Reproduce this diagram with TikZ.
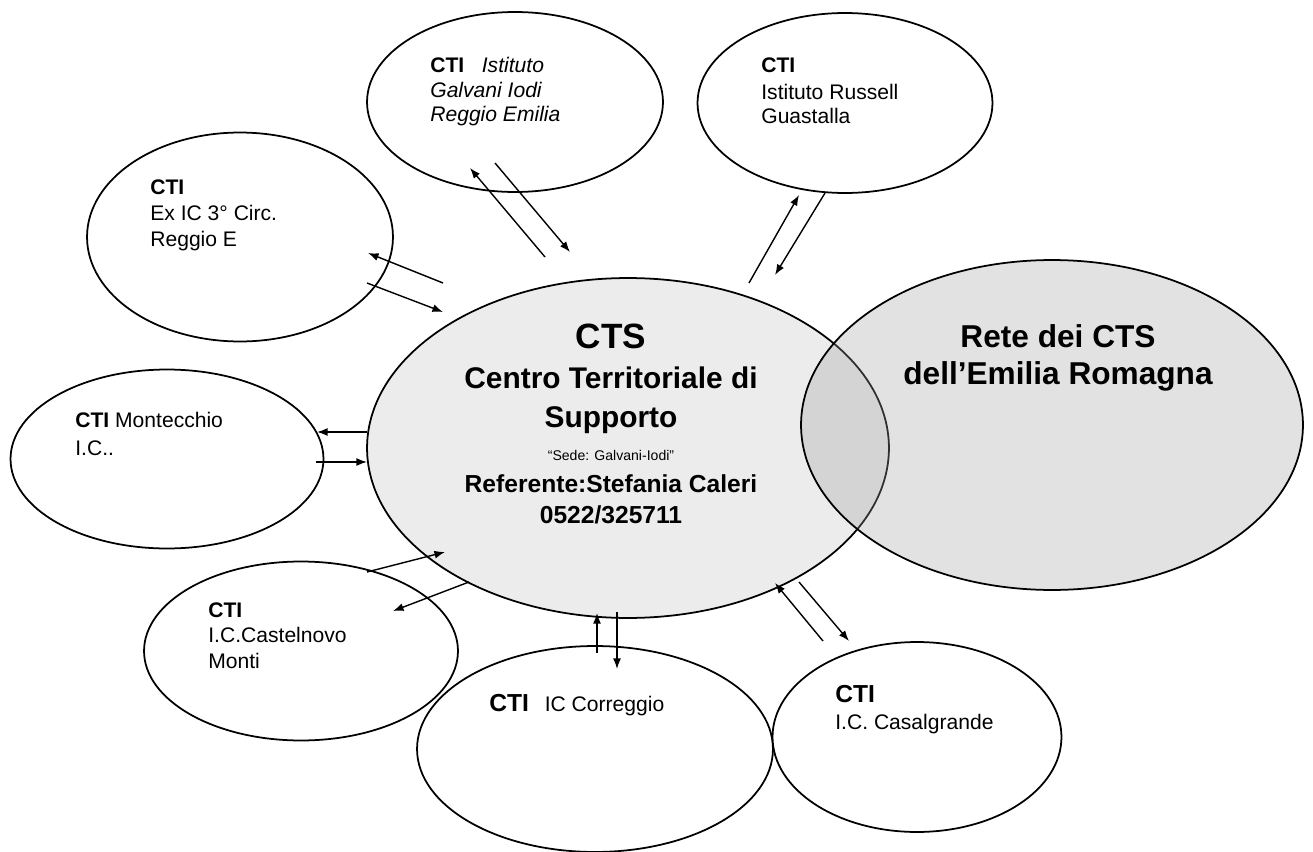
\documentclass[tikz,border=0pt]{standalone}
\usepackage{fontspec}
\setmainfont{Liberation Sans}
\usetikzlibrary{shapes,arrows.meta}
\pgfdeclarelayer{ellipselayer}
\pgfdeclarelayer{edgelayer}
\pgfdeclarelayer{nodelayer}
\pgfsetlayers{ellipselayer,edgelayer,nodelayer,main}
\definecolor{ctsfill}{gray}{0.925}
\definecolor{retefill}{gray}{0.62}
\tikzset{font=\fontsize{12}{14}\selectfont}
\tikzstyle{none}=[inner sep=0pt]
\tikzstyle{cti}=[ellipse,draw,fill=white,line width=1pt,inner sep=0pt]
\tikzstyle{txt}=[anchor=base west,inner sep=0pt]
\tikzstyle{txtc}=[anchor=base,inner sep=0pt,font=\fontsize{17}{20}\selectfont\bfseries]
\tikzstyle{arr}=[line width=0.8pt,-{Latex[length=6pt,width=4.5pt]}]

\begin{document}
\begin{tikzpicture}[x=0.02cm,y=-0.02cm]
	\useasboundingbox (0, 0) rectangle (1313, 852);
	\begin{pgfonlayer}{ellipselayer}
		\node [style=cti, minimum width=5.92cm, minimum height=3.6cm] (galvani) at (515, 102) {};
		\node [style=cti, minimum width=5.9cm, minimum height=3.6cm] (russell) at (845, 103) {};
		\node [style=cti, minimum width=6.12cm, minimum height=4.18cm] (exic) at (240, 237) {};
		\node [style=cti, minimum width=6.26cm, minimum height=3.58cm] (montecchio) at (167, 459) {};
		\node [style=cti, minimum width=6.28cm, minimum height=3.58cm] (castelnovo) at (301, 651) {};
		\node [style=cti, minimum width=7.12cm, minimum height=4.12cm] (correggio) at (595, 749) {};
		\node [style=cti, minimum width=5.78cm, minimum height=3.8cm] (casalgrande) at (917, 737) {};
		\node [style=cti, fill=ctsfill, minimum width=10.44cm, minimum height=6.8cm] (cts) at (628, 448) {};
		\node [style=cti, fill=retefill, fill opacity=0.3, minimum width=10.04cm, minimum height=6.6cm] (rete) at (1052, 425) {};
	\end{pgfonlayer}
	\begin{pgfonlayer}{nodelayer}
		% ends of the arrows
		\node [style=none] (0) at (545, 257) {};
		\node [style=none] (1) at (470, 168) {};
		\node [style=none] (2) at (495, 163) {};
		\node [style=none] (3) at (570, 252) {};
		\node [style=none] (4) at (749, 283) {};
		\node [style=none] (5) at (799, 195) {};
		\node [style=none] (6) at (825, 193) {};
		\node [style=none] (7) at (775, 275) {};
		\node [style=none] (8) at (443, 283) {};
		\node [style=none] (9) at (368, 253) {};
		\node [style=none] (10) at (367, 283) {};
		\node [style=none] (11) at (443, 312) {};
		\node [style=none] (12) at (367, 432) {};
		\node [style=none] (13) at (317, 432) {};
		\node [style=none] (14) at (316, 462) {};
		\node [style=none] (15) at (367, 462) {};
		\node [style=none] (16) at (367, 572) {};
		\node [style=none] (17) at (445, 552) {};
		\node [style=none] (18) at (469, 582) {};
		\node [style=none] (19) at (393, 611) {};
		\node [style=none] (20) at (597, 653) {};
		\node [style=none] (21) at (597, 613) {};
		\node [style=none] (22) at (617, 612) {};
		\node [style=none] (23) at (617, 669) {};
		\node [style=none] (24) at (823, 641) {};
		\node [style=none] (25) at (775, 583) {};
		\node [style=none] (26) at (799, 582) {};
		\node [style=none] (27) at (849, 641) {};
		% texts
		\node [style=txt] (galvani1) at (430, 72) {\textbf{CTI}\hspace{10pt}\textit{Istituto}};
		\node [style=txt] (galvani2) at (430, 97) {\textit{Galvani Iodi}};
		\node [style=txt] (galvani3) at (430, 121) {\textit{Reggio Emilia}};
		\node [style=txt] (russell1) at (761, 72) {\textbf{CTI}};
		\node [style=txt] (russell2) at (761, 99) {Istituto Russell};
		\node [style=txt] (russell3) at (761, 123) {Guastalla};
		\node [style=txt] (exic1) at (150, 194) {\textbf{CTI}};
		\node [style=txt] (exic2) at (150, 220) {Ex IC 3° Circ.};
		\node [style=txt] (exic3) at (150, 246) {Reggio E};
		\node [style=txt] (montecchio1) at (75, 427) {\textbf{CTI} Montecchio};
		\node [style=txt] (montecchio2) at (75, 455) {I.C..};
		\node [style=txt] (castelnovo1) at (208, 617) {\textbf{CTI}};
		\node [style=txt] (castelnovo2) at (208, 642) {I.C.Castelnovo};
		\node [style=txt] (castelnovo3) at (208, 668) {Monti};
		\node [style=txt] (correggio1) at (489, 711) {{\fontsize{14}{16}\selectfont\textbf{CTI}}\hspace{9pt}IC Correggio};
		\node [style=txt, font=\fontsize{14}{16}\selectfont\bfseries] (casalgrande1) at (835, 702) {CTI};
		\node [style=txt] (casalgrande2) at (835, 729) {I.C. Casalgrande};
		\node [style=txtc, font=\fontsize{20}{24}\selectfont\bfseries] (cts1) at (611, 348) {CTS};
		\node [style=txtc] (cts2) at (611, 388) {Centro Territoriale di};
		\node [style=txtc] (cts3) at (611, 427) {Supporto};
		\node [style=txtc, font=\fontsize{8}{10}\selectfont] (cts4) at (611, 460) {“Sede: Galvani-Iodi”};
		\node [style=txtc, font=\fontsize{14}{16}\selectfont\bfseries] (cts5) at (611, 492) {Referente:Stefania Caleri};
		\node [style=txtc, font=\fontsize{14}{16}\selectfont\bfseries] (cts6) at (611, 523) {0522/325711};
		\node [style=txtc, font=\fontsize{18}{22}\selectfont\bfseries] (rete1) at (1058, 347) {Rete dei CTS};
		\node [style=txtc, font=\fontsize{18}{22}\selectfont\bfseries] (rete2) at (1058, 384) {dell’Emilia Romagna};
	\end{pgfonlayer}
	\begin{pgfonlayer}{edgelayer}
		\draw [style=arr] (0.center) to (1.center);
		\draw [style=arr] (2.center) to (3.center);
		\draw [style=arr] (4.center) to (5.center);
		\draw [style=arr] (6.center) to (7.center);
		\draw [style=arr] (8.center) to (9.center);
		\draw [style=arr] (10.center) to (11.center);
		\draw [style=arr] (12.center) to (13.center);
		\draw [style=arr] (14.center) to (15.center);
		\draw [style=arr] (16.center) to (17.center);
		\draw [style=arr] (18.center) to (19.center);
		\draw [style=arr] (20.center) to (21.center);
		\draw [style=arr] (22.center) to (23.center);
		\draw [style=arr] (24.center) to (25.center);
		\draw [style=arr] (26.center) to (27.center);
	\end{pgfonlayer}
\end{tikzpicture}
\end{document}
